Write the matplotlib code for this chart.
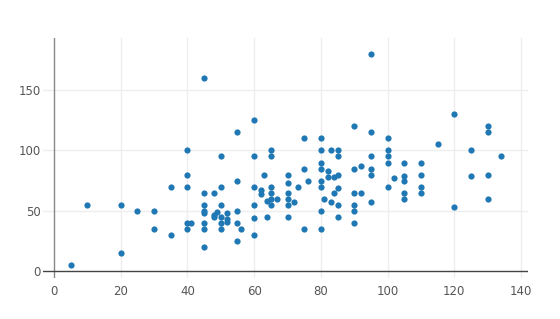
import matplotlib
matplotlib.use("Agg")
import matplotlib.pyplot as plt
import numpy as np


# points, grouped by x value
x_vals = [5, 10, 20, 20, 25, 30, 30, 35, 35,
          40, 40, 40, 40, 41, 40,
          45, 45, 45, 45, 45, 45, 45, 45,
          48, 48, 48, 49,
          50, 50, 50, 50, 50, 50,
          52, 52, 52,
          55, 55, 55, 55, 55, 56,
          60, 60, 60, 60, 60, 60,
          62, 62, 63, 64, 64,
          65, 65, 65, 65, 65, 65, 67,
          70, 70, 70, 70, 70, 70, 72, 73,
          75, 75, 75, 76,
          80, 80, 80, 80, 80, 80, 80, 80, 81,
          82, 82, 83, 83, 84, 84,
          85, 85, 85, 85, 85, 85,
          90, 90, 90, 90, 90, 90, 92, 92,
          95, 95, 95, 95, 95, 95,
          100, 100, 100, 100, 100,
          102, 105, 105, 105, 105, 105,
          110, 110, 110, 110,
          115, 120, 120, 125, 125,
          130, 130, 130, 130, 134]
y_vals = [5, 55, 55, 15, 50, 50, 35, 70, 30,
          100, 80, 70, 40, 40, 35,
          160, 65, 55, 50, 48, 40, 35, 20,
          65, 47, 45, 49,
          95, 70, 55, 45, 40, 35,
          48, 43, 41,
          115, 75, 50, 40, 25, 35,
          125, 95, 70, 55, 44, 30,
          67, 64, 80, 45, 58,
          100, 95, 70, 65, 60, 55, 60,
          80, 73, 65, 60, 55, 45, 57, 70,
          110, 85, 35, 75,
          110, 100, 90, 85, 75, 70, 50, 35, 60,
          83, 78, 100, 57, 78, 65,
          100, 95, 80, 69, 55, 45,
          120, 85, 65, 55, 50, 40, 87, 65,
          180, 115, 95, 85, 80, 57,
          110, 100, 95, 90, 70,
          77, 90, 79, 75, 65, 60,
          90, 80, 70, 65,
          105, 130, 53, 100, 79,
          120, 115, 80, 60, 95]

x_ticks = [0, 20, 40, 60, 80, 100, 120, 140]
y_ticks = [0, 50, 100, 150]

fig = plt.figure(figsize=(5.6, 3.19), dpi=100)
ax = fig.add_axes([43 / 560, 41 / 319, 485 / 560, 240 / 319])

ax.set_xlim(-3.3, 142.1)
ax.set_ylim(-5.5, 193)

for t in x_ticks[1:]:
    ax.axvline(t, color="#eeeeee", lw=1, zorder=0)
for t in y_ticks[1:]:
    ax.axhline(t, color="#eeeeee", lw=1, zorder=0)
ax.axvline(0, color="#888888", lw=1, zorder=1)
ax.axhline(0, color="#444444", lw=1, zorder=1)

ax.scatter(np.array(x_vals), np.array(y_vals), s=20, color="#1f77b4",
           linewidths=0, zorder=3)

for s in ax.spines.values():
    s.set_visible(False)
ax.set_xticks(x_ticks)
ax.set_yticks(y_ticks)
ax.tick_params(length=0, labelsize=8.5, labelcolor="#555555")
ax.tick_params(axis="x", pad=5)
ax.tick_params(axis="y", pad=1.5)

fig.savefig("out.png", dpi=100)
